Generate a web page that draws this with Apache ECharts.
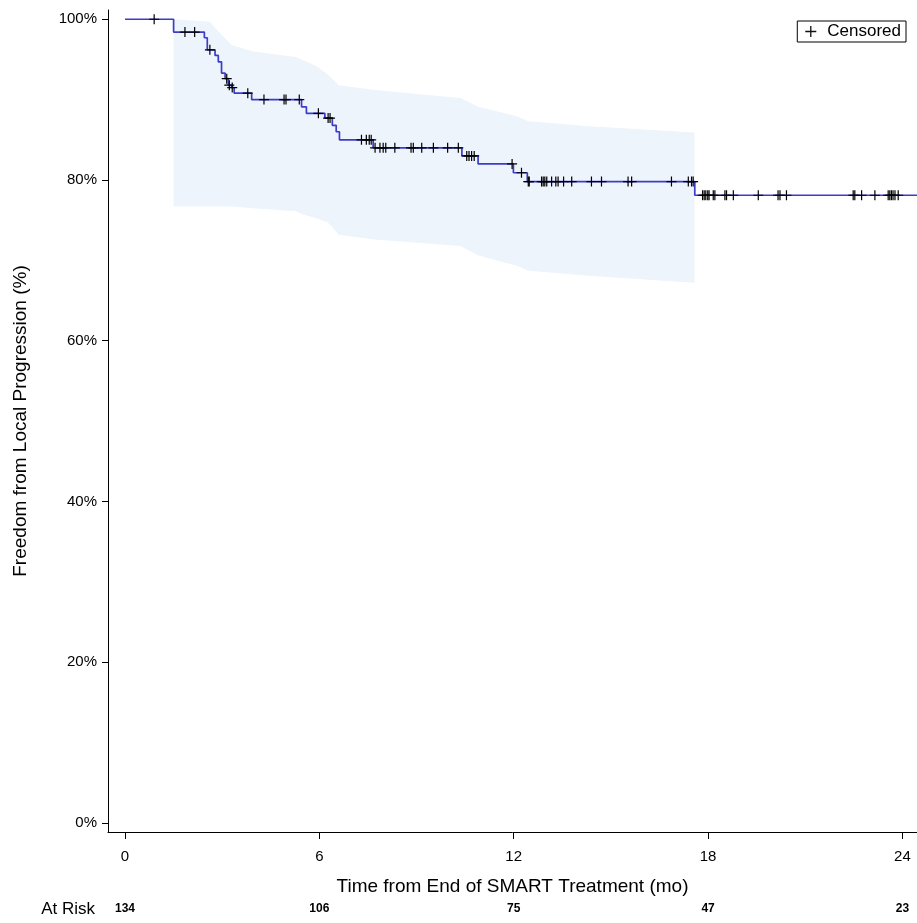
<!DOCTYPE html>
<html>
<head>
<meta charset="utf-8">
<title>Freedom from Local Progression</title>
<script src="https://cdn.jsdelivr.net/npm/echarts@6/dist/echarts.min.js"></script>
<style>
  html, body { margin: 0; padding: 0; background: #fff; }
  #main { width: 917px; height: 923px; }
</style>
</head>
<body>
<div id="main"></div>
<script>
// Kaplan-Meier steps: month where the curve drops and the new level (%)
const kmTime = [0, 1.50, 2.45, 2.54, 2.78, 2.88, 2.98, 3.09, 3.19, 3.29, 3.37, 3.91,
  5.45, 5.60, 6.17, 6.40, 6.52, 6.62, 7.66, 10.40, 10.90, 11.99, 12.42, 17.59];
const kmSurv = [100, 98.4, 97.7, 96.2, 95.5, 94.7, 93.3, 92.6, 91.8, 91.5, 90.8, 90.0,
  89.1, 88.3, 87.7, 86.8, 86.0, 85.0, 84.0, 83.0, 82.0, 80.9, 79.8, 78.1];
const kmEnd = 24.45;

// censored patients (months)
const censorTimes = [0.90, 1.85, 2.15, 2.62, 3.14, 3.22, 3.31, 3.79, 4.29, 4.91, 4.97, 5.38,
  5.97, 6.27, 6.33,
  7.30, 7.45, 7.54, 7.60,
  7.72, 7.87, 7.97, 8.05, 8.33, 8.83, 8.90, 9.16, 9.52, 9.96, 10.29,
  10.55, 10.62, 10.70, 10.78,
  11.95, 12.24,
  12.45, 12.48, 12.86, 12.91, 12.96, 13.02, 13.17, 13.30, 13.37, 13.54, 13.79, 14.40, 14.71,
  15.53, 15.64, 16.87, 17.39, 17.49, 17.54,
  17.83, 17.88, 17.93, 17.99, 18.03, 18.16, 18.21, 18.52, 18.57, 18.78, 19.55, 20.16, 20.22,
  20.42, 22.48, 22.53, 22.74, 23.15, 23.56, 23.61, 23.66, 23.71, 23.77, 23.87];

// 95% confidence band
const bandTime  = [1.50, 2.63, 2.74, 3.29, 3.96, 5.28, 5.50, 5.94, 6.27, 6.60, 7.70, 10.36, 10.91, 12.12, 12.46, 14.33, 17.58];
const bandUpper = [100.0, 99.7, 99.1, 96.8, 96.0, 95.3, 94.9, 94.1, 93.1, 91.8, 91.2, 90.2, 89.1, 87.9, 87.3, 86.7, 85.9];
const bandLower = [76.7, 76.7, 76.7, 76.7, 76.5, 76.1, 75.7, 75.2, 74.7, 73.2, 72.6, 71.8, 70.6, 69.3, 68.7, 68.1, 67.2];

const tickMonths = [0, 6, 12, 18, 24];
const atRisk = [134, 106, 75, 47, 23];
const yTicks = [0, 20, 40, 60, 80, 100];

const FONT = '"Liberation Sans", Arial, sans-serif';
const PLUS = 'path://M4.4,0h1.2v10h-1.2zM0,4.4h10v1.2h-10z';

// level of the KM curve at time t (censor marks sit on the curve)
function survAt(t) {
  let s = kmSurv[0];
  for (let i = 0; i < kmTime.length; i++) {
    if (kmTime[i] <= t) s = kmSurv[i];
  }
  return s;
}

const kmData = kmTime.map((t, i) => [t, kmSurv[i]]);
kmData.push([kmEnd, kmSurv[kmSurv.length - 1]]);

const chart = echarts.init(document.getElementById('main'), null, {renderer: 'canvas'});

const option = {
  animation: false,
  backgroundColor: '#fff',
  grid: {left: 108, right: 0, top: 10, bottom: 91},
  legend: {
    data: [{name: 'Censored', icon: PLUS}],
    right: 11,
    top: 21,
    selectedMode: false,
    borderColor: '#000',
    borderWidth: 1,
    borderRadius: 0,
    padding: [2, 5, 2, 8],
    itemWidth: 11,
    itemHeight: 11,
    itemStyle: {color: '#111'},
    textStyle: {fontSize: 17, color: '#000', fontFamily: FONT, padding: [0, 0, 0, 6]}
  },
  xAxis: [
    {
      type: 'value',
      min: -0.525,
      max: kmEnd,
      position: 'bottom',
      axisLine: {show: true, onZero: false, lineStyle: {color: '#000', width: 1}},
      axisTick: {show: true, length: 7, customValues: tickMonths, lineStyle: {color: '#000'}},
      axisLabel: {customValues: tickMonths, margin: 17, fontSize: 15, color: '#000', fontFamily: FONT},
      splitLine: {show: false},
      name: 'Time from End of SMART Treatment (mo)',
      nameLocation: 'middle',
      nameGap: 45,
      nameTextStyle: {fontSize: 19, color: '#000', fontFamily: FONT}
    },
    {
      // at-risk row under the axis title
      type: 'value',
      min: -0.525,
      max: kmEnd,
      position: 'bottom',
      offset: 77,
      axisLine: {show: false, onZero: false},
      axisTick: {show: false},
      splitLine: {show: false},
      axisLabel: {
        customValues: tickMonths,
        margin: 0,
        verticalAlign: 'middle',
        fontSize: 12,
        fontWeight: 'bold',
        color: '#000',
        fontFamily: FONT,
        formatter: v => String(atRisk[tickMonths.indexOf(v)])
      },
      name: 'At Risk',
      nameLocation: 'start',
      nameGap: 13,
      nameTextStyle: {fontSize: 17, color: '#000', fontFamily: FONT, verticalAlign: 'middle'}
    }
  ],
  yAxis: {
    type: 'value',
    min: -1.12,
    max: 101.15,
    axisLine: {show: true, onZero: false, lineStyle: {color: '#000', width: 1}},
    axisTick: {show: true, length: 6, customValues: yTicks, lineStyle: {color: '#000'}},
    axisLabel: {customValues: yTicks, margin: 11, fontSize: 15, color: '#000', fontFamily: FONT,
      formatter: v => v + '%'},
    splitLine: {show: false},
    name: 'Freedom from Local Progression (%)',
    nameLocation: 'middle',
    nameGap: 78,
    nameRotate: 90,
    nameTextStyle: {fontSize: 19, color: '#000', fontFamily: FONT}
  },
  series: [
    {
      type: 'custom',
      name: 'CI',
      silent: true,
      clip: true,
      z: 1,
      data: bandTime.map((t, i) => [t, bandUpper[i], bandLower[i]]),
      encode: {x: 0, y: [1, 2]},
      renderItem: function (params, api) {
        if (params.dataIndex !== 0) return null;
        const pts = [];
        for (let i = 0; i < bandTime.length; i++) pts.push(api.coord([bandTime[i], bandUpper[i]]));
        for (let i = bandTime.length - 1; i >= 0; i--) pts.push(api.coord([bandTime[i], bandLower[i]]));
        return {type: 'polygon', shape: {points: pts}, style: {fill: '#eef4fb'}};
      }
    },
    {
      type: 'line',
      name: 'KM',
      step: 'end',
      data: kmData,
      symbol: 'none',
      lineStyle: {color: '#3c3cca', width: 1.7},
      z: 2
    },
    {
      type: 'scatter',
      name: 'Censored',
      data: censorTimes.map(t => [t, survAt(t)]),
      symbol: PLUS,
      symbolSize: 10,
      itemStyle: {color: '#000', opacity: 1},
      z: 3
    }
  ]
};

chart.setOption(option);
</script>
</body>
</html>
